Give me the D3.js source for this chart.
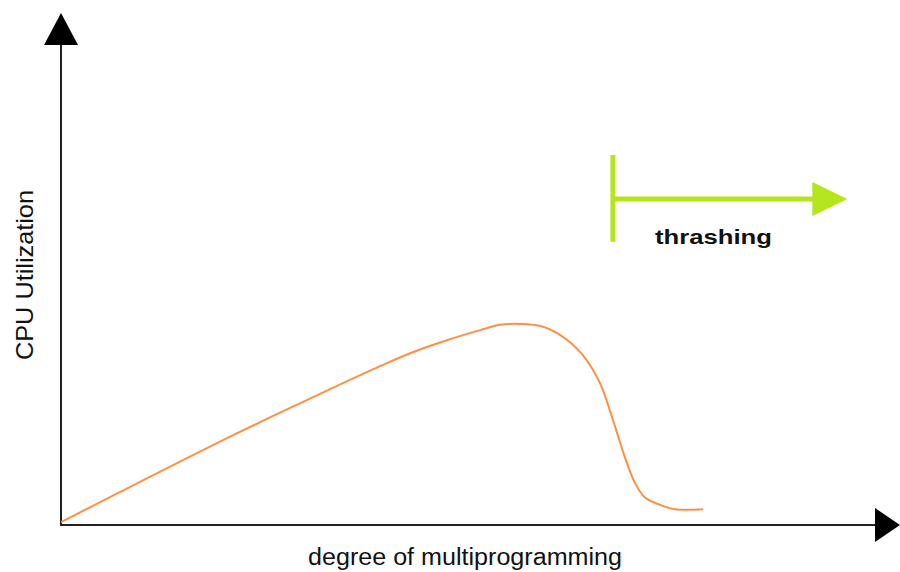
<!DOCTYPE html>
<html lang="en">
<head>
  <meta charset="UTF-8">
  <title>Thrashing</title>
  <script src="https://d3js.org/d3.v7.min.js"></script>
  <style>
    body { margin: 0; background: #fff; }
    text { font-family: "Liberation Sans", Arial, sans-serif; }
  </style>
</head>
<body>
  <svg id="viz" width="900" height="572"></svg>

  <script>
    // degree of multiprogramming (0-100) vs CPU utilization (0-100)
    const degree = [0, 20.4, 29.4, 34.3, 39.2, 43.2, 47.4, 51.5, 53.9, 56.4, 58.8, 61.3, 64.1, 66.2, 67.8, 69.3, 70.5, 71.7, 73.6, 75.4, 78.9];
    const utilization = [0.6, 18.1, 25.4, 29.3, 33.1, 36.0, 38.5, 40.6, 41.7, 41.9, 41.5, 39.6, 35.4, 29.6, 21.9, 14.0, 8.8, 5.8, 4.2, 3.3, 3.3];

    // thrashing marker: starts at degree 67.8, arrow runs to 96.6 at level 67.9
    const thrashingStart = 67.8;
    const thrashingEnd = 96.6;
    const thrashingLevel = 67.9;
    const thrashingSpan = [59.0, 77.1];

    const labels = { x: "degree of multiprogramming", y: "CPU Utilization", thrash: "thrashing" };

    const svg = d3.select("#viz");
    const x = d3.scaleLinear().domain([0, 100]).range([61, 875]);
    const y = d3.scaleLinear().domain([0, 100]).range([525, 45]);

    const axisColor = "#222";

    // axes
    svg.append("line")
      .attr("x1", x(0)).attr("x2", x(0))
      .attr("y1", y(0) + 1).attr("y2", y(100))
      .attr("stroke", axisColor).attr("stroke-width", 2);
    svg.append("line")
      .attr("x1", x(0) - 1).attr("x2", x(100))
      .attr("y1", y(0)).attr("y2", y(0))
      .attr("stroke", axisColor).attr("stroke-width", 2);

    // arrow heads on axes
    svg.append("path")
      .attr("d", `M${x(0) - 17},${y(100)} L${x(0) + 17},${y(100)} L${x(0)},${y(100) - 32} Z`)
      .attr("fill", "#000");
    svg.append("path")
      .attr("d", `M${x(100)},${y(0) - 17} L${x(100)},${y(0) + 17} L${x(100) + 25},${y(0)} Z`)
      .attr("fill", "#000");

    // curve
    const line = d3.line()
      .x((d, i) => x(degree[i]))
      .y(d => y(d))
      .curve(d3.curveCatmullRom.alpha(0.5));

    svg.append("path")
      .datum(utilization)
      .attr("d", line)
      .attr("fill", "none")
      .attr("stroke", "#ff8f45")
      .attr("stroke-width", 2);

    // thrashing marker
    const green = "#b5e61d";
    svg.append("line")
      .attr("x1", x(thrashingStart)).attr("x2", x(thrashingStart))
      .attr("y1", y(thrashingSpan[1])).attr("y2", y(thrashingSpan[0]))
      .attr("stroke", green).attr("stroke-width", 5);
    svg.append("line")
      .attr("x1", x(thrashingStart)).attr("x2", x(thrashingEnd) - 34)
      .attr("y1", y(thrashingLevel)).attr("y2", y(thrashingLevel))
      .attr("stroke", green).attr("stroke-width", 5);
    svg.append("path")
      .attr("d", `M${x(thrashingEnd) - 35},${y(thrashingLevel) - 17} L${x(thrashingEnd) - 35},${y(thrashingLevel) + 17} L${x(thrashingEnd)},${y(thrashingLevel)} Z`)
      .attr("fill", green);

    svg.append("text")
      .attr("x", 655).attr("y", 244)
      .attr("font-size", 21).attr("font-weight", "bold")
      .attr("fill", "#111")
      .attr("textLength", 117).attr("lengthAdjust", "spacingAndGlyphs")
      .text(labels.thrash);

    // axis titles
    svg.append("text")
      .attr("x", 308).attr("y", 565)
      .attr("font-size", 23)
      .attr("fill", "#111")
      .attr("textLength", 314).attr("lengthAdjust", "spacingAndGlyphs")
      .text(labels.x);

    svg.append("text")
      .attr("transform", "translate(33,360) rotate(-90)")
      .attr("font-size", 24)
      .attr("fill", "#111")
      .attr("textLength", 170).attr("lengthAdjust", "spacingAndGlyphs")
      .text(labels.y);
  </script>
</body>
</html>
